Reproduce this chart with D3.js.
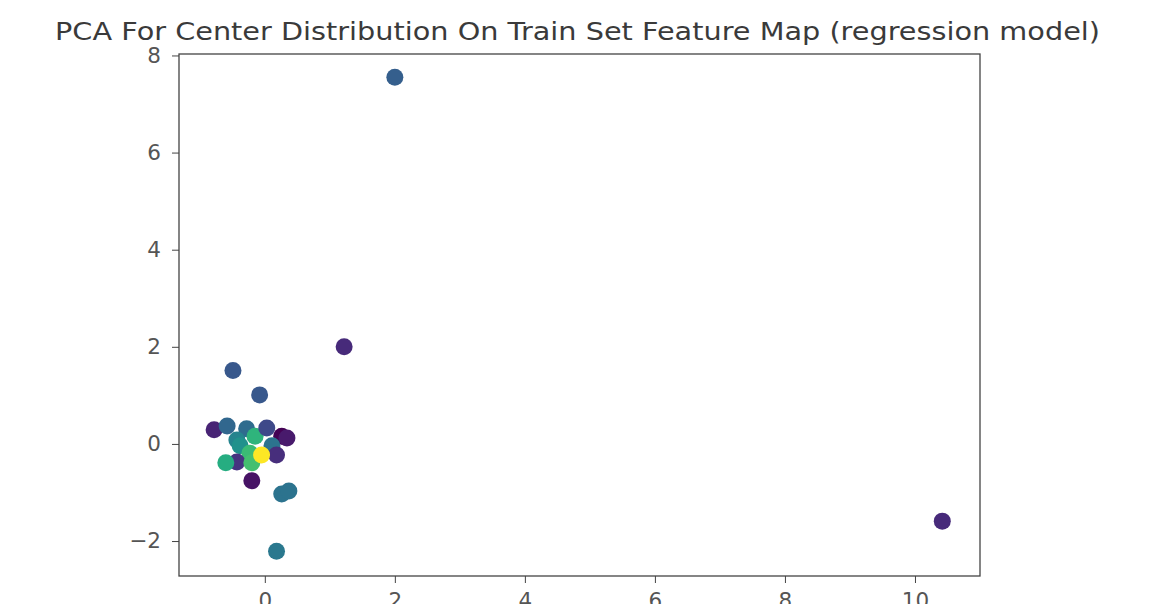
<!DOCTYPE html>
<html lang="en">
<head>
    <meta charset="UTF-8">
    <title>PCA Center Distribution</title>
    <script src="https://d3js.org/d3.v7.min.js"></script>
    <style>
        body { margin: 0; background: #fff; }
        text { font-family: "DejaVu Sans", sans-serif; }
    </style>
</head>
<body>
<svg width="1152" height="604"></svg>
<script>
    // PCA components and the colour value of each centre
    let pcX = [2.00, 1.22, 10.42, -0.49, -0.08, 0.18, 0.26, 0.37, -0.20, -0.78, -0.58, -0.28, -0.43, -0.38, -0.15, 0.03, 0.26, 0.34, 0.11, -0.23, -0.43, -0.60, -0.20, 0.18, -0.05]
    let pcY = [7.55, 2.00, -1.59, 1.51, 1.01, -2.21, -1.03, -0.97, -0.76, 0.29, 0.37, 0.31, 0.08, -0.04, 0.16, 0.33, 0.16, 0.12, -0.04, -0.19, -0.37, -0.39, -0.39, -0.23, -0.23]
    let colorVal = [0.30, 0.12, 0.12, 0.27, 0.27, 0.40, 0.38, 0.38, 0.05, 0.10, 0.33, 0.35, 0.45, 0.50, 0.65, 0.22, 0.00, 0.07, 0.38, 0.68, 0.15, 0.62, 0.70, 0.13, 1.00]
    let xTicks = [0, 2, 4, 6, 8, 10]
    let yTicks = [-2, 0, 2, 4, 6, 8]
    let title = "PCA For Center Distribution On Train Set Feature Map (regression model)"

    let points = pcX.map(function(d, i) { return {x: d, y: pcY[i], c: colorVal[i]} })

    let svg = d3.select('svg')
    let mLeft = 179, mRight = 980, mTop = 54, mBottom = 576

    let x = d3.scaleLinear().domain([-1.32, 11.0]).range([mLeft, mRight])
    let y = d3.scaleLinear().domain([-2.72, 8.03]).range([mBottom, mTop])

    // the reference title is a bit wider than DejaVu, so stretch it to fit
    svg.append("text")
        .attr("x", 55)
        .attr("y", 39.5)
        .attr("font-size", 25.5)
        .attr("textLength", 1045)
        .attr("lengthAdjust", "spacingAndGlyphs")
        .attr("fill", "#3a3a3a")
        .text(title)

    svg.append("g")
        .selectAll("circle")
        .data(points)
        .enter()
        .append("circle")
        .attr("cx", function(d) { return x(d.x) })
        .attr("cy", function(d) { return y(d.y) })
        .attr("r", 8.5)
        .attr("fill", function(d) { return d3.interpolateViridis(d.c) })

    let xAxis = svg.append("g")
        .attr("transform", `translate(0,${mBottom})`)
        .call(d3.axisBottom(x).tickValues(xTicks).tickSize(7).tickPadding(10).tickFormat(d3.format("d")))
    let yAxis = svg.append("g")
        .attr("transform", `translate(${mLeft},0)`)
        .call(d3.axisLeft(y).tickValues(yTicks).tickSize(7).tickPadding(11)
            .tickFormat(function(d) { return d < 0 ? "\u2212" + Math.abs(d) : d }))

    for (let a of [xAxis, yAxis]) {
        a.select(".domain").remove()
        a.selectAll("line").attr("stroke", "#444")
        a.selectAll("text").attr("font-size", 21.5).attr("fill", "#555").attr("font-family", "DejaVu Sans")
    }

    svg.append("rect")
        .attr("x", mLeft).attr("y", mTop)
        .attr("width", mRight - mLeft).attr("height", mBottom - mTop)
        .attr("fill", "none")
        .attr("stroke", "#444")
        .attr("stroke-width", 1.3)
</script>
</body>
</html>
